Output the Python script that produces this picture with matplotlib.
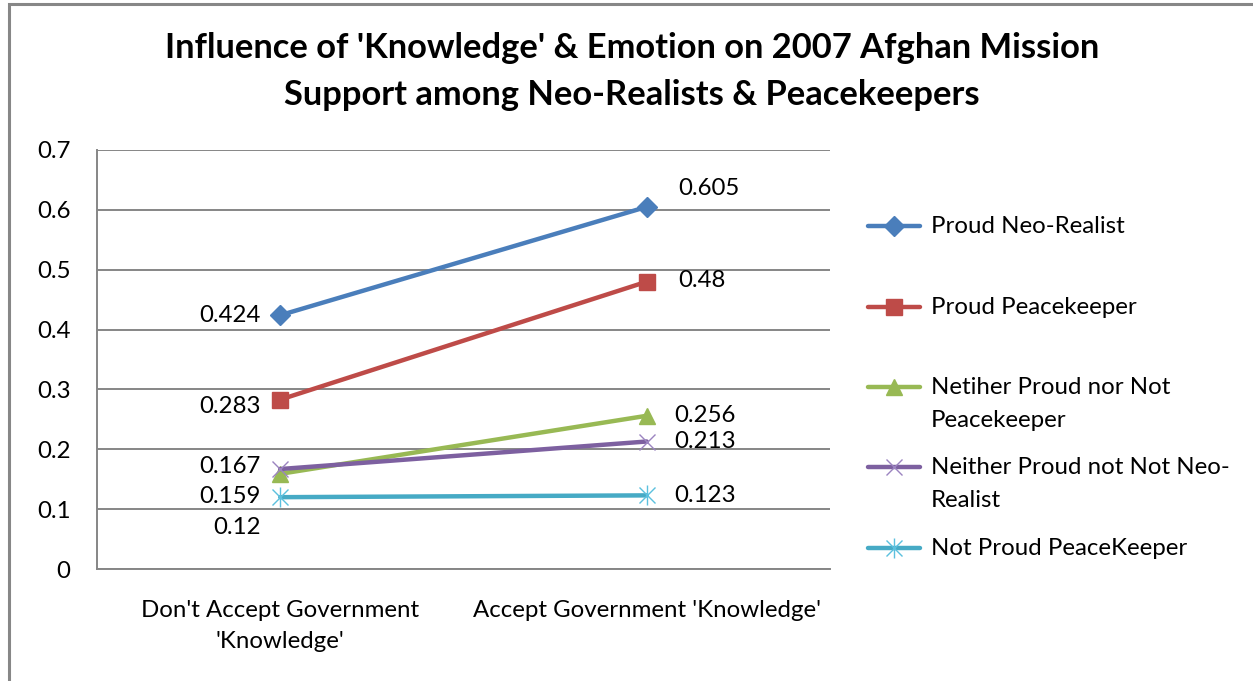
import matplotlib
matplotlib.use("Agg")
import matplotlib.pyplot as plt
from matplotlib.patches import Rectangle

plt.rcParams['font.family'] = ['Lato', 'DejaVu Sans']

# ---- data ----
categories = ["Don't Accept Government\n'Knowledge'", "Accept Government 'Knowledge'"]
series_names = [
    "Proud Neo-Realist",
    "Proud Peacekeeper",
    "Netiher Proud nor Not\nPeacekeeper",
    "Neither Proud not Not Neo-\nRealist",
    "Not Proud PeaceKeeper",
]
proud_neo_realist = [0.424, 0.605]
proud_peacekeeper = [0.283, 0.48]
neither_peacekeeper = [0.159, 0.256]
neither_neo_realist = [0.167, 0.213]
not_proud_peacekeeper = [0.12, 0.123]
y_ticks = [0, 0.1, 0.2, 0.3, 0.4, 0.5, 0.6, 0.7]
y_tick_labels = ["0", "0.1", "0.2", "0.3", "0.4", "0.5", "0.6", "0.7"]

series_values = [proud_neo_realist, proud_peacekeeper, neither_peacekeeper,
                 neither_neo_realist, not_proud_peacekeeper]
colors = ["#4A7EBB", "#BE4B48", "#98B954", "#7D60A0", "#46AAC5"]
markers = ["D", "s", "^", "x", "x"]
msizes = [10, 12, 12, 12, 12]

FS = 17.3

# label offsets in points (left point, right point)
label_offsets = [
    [(-14, 0), (23, 13)],
    [(-14, -5), (23, 1)],
    [(-14, -16), (20, 0)],
    [(-14, 2), (20, 0)],
    [(-14, -22), (20, 0)],
]

W, H = 1253, 681
fig = plt.figure(figsize=(W / 100, H / 100), dpi=100)
fig.patch.set_facecolor("white")

# outer chart frame (left and top edges visible)
fig.add_artist(Rectangle((9 / W, -0.05), 1.2, (677 + 0.05 * H) / H,
                         transform=fig.transFigure, fill=False,
                         edgecolor="#878787", linewidth=2.2))

ax = fig.add_axes([97 / W, (H - 569) / H, (830 - 97) / W, (569 - 150) / H])
x = [0.5, 1.5]

for i, (vals, c, m, ms) in enumerate(zip(series_values, colors, markers, msizes)):
    if i in (3, 4):
        ax.plot(x, vals, color=c, linewidth=3.2, zorder=3 + i, solid_capstyle="round")
        mc = "#9B84C0" if i == 3 else "#5BC0DE"
        ax.plot(x, vals, linestyle="none", marker="x", markersize=ms,
                markeredgecolor=mc, markeredgewidth=1.0, zorder=3 + i)
        if i == 4:
            ax.plot(x, vals, linestyle="none", marker="|", markersize=ms + 2,
                    markeredgecolor=mc, markeredgewidth=1.0, zorder=3 + i)
    else:
        ax.plot(x, vals, color=c, linewidth=3.2, marker=m, markersize=ms,
                markerfacecolor=c, markeredgecolor=c, zorder=3 + i,
                solid_capstyle="round")
    for j, v in enumerate(vals):
        dx, dy = label_offsets[i][j]
        ax.annotate(f"{v:g}", (x[j], v), xytext=(dx, dy), textcoords="offset points",
                    ha="right" if j == 0 else "left", va="center",
                    fontsize=FS, color="black", zorder=10)

ax.set_xlim(0, 2)
ax.set_ylim(0, 0.7)
ax.set_yticks(y_ticks)
ax.set_yticklabels(y_tick_labels)
ax.set_xticks(x)
ax.set_xticklabels(categories, linespacing=1.62)
ax.tick_params(axis="y", length=0, pad=19, labelsize=FS)
ax.tick_params(axis="x", length=0, pad=22, labelsize=FS)
ax.yaxis.grid(True, color="#868686", linewidth=1.4)
ax.set_axisbelow(True)
for s in ("top", "right"):
    ax.spines[s].set_visible(False)
for s in ("left", "bottom"):
    ax.spines[s].set_color("#868686")
    ax.spines[s].set_linewidth(1.4)

fig.text(632 / W, 1 - 48 / H, "Influence of 'Knowledge' & Emotion on 2007 Afghan Mission",
         ha="center", va="center", fontsize=24.8, fontweight="bold")
fig.text(632 / W, 1 - 95 / H, "Support among Neo-Realists & Peacekeepers",
         ha="center", va="center", fontsize=24.8, fontweight="bold")

# legend
lax = fig.add_axes([0, 0, 1, 1], facecolor="none")
lax.set_xlim(0, W)
lax.set_ylim(H, 0)
lax.axis("off")
legend_rows = [226, 307, 387, 467, 548]
for i, (name, c, m, ms, yy) in enumerate(zip(series_names, colors, markers, msizes, legend_rows)):
    lax.plot([868, 920], [yy, yy], color=c, linewidth=3.2, solid_capstyle="round")
    if i in (3, 4):
        mc = "#9B84C0" if i == 3 else "#5BC0DE"
        lax.plot([894], [yy], marker="x", markersize=ms, markeredgecolor=mc,
                 markeredgewidth=1.0, linestyle="none")
        if i == 4:
            lax.plot([894], [yy], marker="|", markersize=ms + 2, markeredgecolor=mc,
                     markeredgewidth=1.0, linestyle="none")
    else:
        lax.plot([894], [yy], marker=m, markersize=ms, color=c, linestyle="none")
    lax.text(931, yy - 10, name, ha="left", va="top", fontsize=FS,
             linespacing=1.68)

fig.savefig("out.png", dpi=100, facecolor="white")
